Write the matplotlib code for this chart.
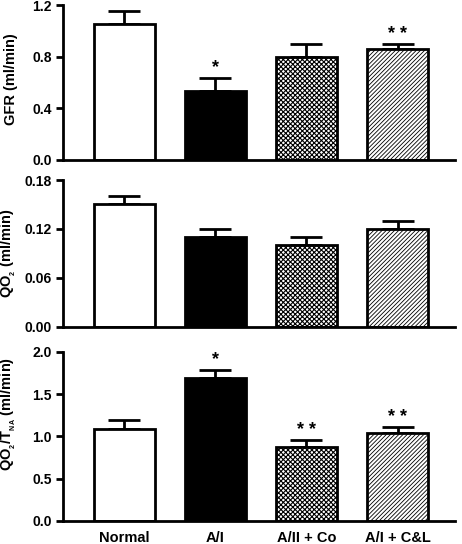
import matplotlib
matplotlib.use("Agg")
import matplotlib.pyplot as plt
import numpy as np

categories = ["Normal", "A/I", "A/II + Co", "A/I + C&L"]
gfr = [1.05, 0.535, 0.80, 0.86]
gfr_err = [0.105, 0.10, 0.098, 0.035]
qo2 = [0.1505, 0.110, 0.100, 0.1195]
qo2_err = [0.0105, 0.0105, 0.010, 0.0105]
qo2t = [1.083, 1.693, 0.874, 1.043]
qo2t_err = [0.105, 0.09, 0.08, 0.064]
gfr_stars = ["", "*", "", "* *"]
qo2_stars = ["", "", "", ""]
qo2t_stars = ["", "*", "* *", "* *"]

plt.rcParams['font.family'] = ['Liberation Sans', 'DejaVu Sans']
plt.rcParams['font.weight'] = 'bold'
plt.rcParams['mathtext.fontset'] = 'custom'
plt.rcParams['mathtext.rm'] = 'Liberation Sans:bold'
plt.rcParams['mathtext.it'] = 'Liberation Sans:bold'
plt.rcParams['mathtext.bf'] = 'Liberation Sans:bold'
plt.rcParams['hatch.linewidth'] = 0.8

fig = plt.figure(figsize=(4.62, 5.44), dpi=100)
L, W = 0.1364, 0.8485
panels = [
    dict(rect=[L, 0.706, W, 0.2848], vals=gfr, err=gfr_err, stars=gfr_stars,
         ylim=(0, 1.2), ticks=[0.0, 0.4, 0.8, 1.2], fmt="{:.1f}", label="GFR (ml/min)", ly=0.52),
    dict(rect=[L, 0.3995, W, 0.2695], vals=qo2, err=qo2_err, stars=qo2_stars,
         ylim=(0, 0.18), ticks=[0.0, 0.06, 0.12, 0.18], fmt="{:.2f}", label="QO$_\\mathregular{_2}$ (ml/min)", ly=0.5),
    dict(rect=[L, 0.0423, W, 0.3112], vals=qo2t, err=qo2t_err, stars=qo2t_stars,
         ylim=(0, 2.0), ticks=[0.0, 0.5, 1.0, 1.5, 2.0], fmt="{:.1f}",
         label="QO$_\\mathregular{_2}$/T$_\\mathregular{_{NA}}$ (ml/min)", ly=0.63),
]

faces = ["white", "black", "white", "white"]
hatches = [None, None, "xxxxxxx", "////////"]
hatch_lw = [0.8, 0.8, 0.8, 0.6]
x = np.arange(len(categories))

for i, p in enumerate(panels):
    ax = fig.add_axes(p["rect"])
    for j in range(len(categories)):
        bars = ax.bar(x[j], p["vals"][j], width=0.67, color=faces[j], edgecolor="black",
                      linewidth=2, hatch=hatches[j], zorder=2)
        for b in bars:
            try:
                b.set_hatch_linewidth(hatch_lw[j])
            except AttributeError:
                pass
        ax.errorbar(x[j], p["vals"][j], yerr=[[0], [p["err"][j]]], fmt="none",
                    ecolor="black", elinewidth=2, capsize=11.5, capthick=2, zorder=1)
        if p["stars"][j]:
            top = p["vals"][j] + p["err"][j]
            ax.text(x[j], top + (p["ylim"][1]) * 0.01, p["stars"][j], ha="center", va="bottom",
                    fontsize=13, fontweight="bold")
    ax.set_xlim(-0.67, 3.63)
    ax.set_ylim(*p["ylim"])
    ax.set_yticks(p["ticks"])
    ax.set_yticklabels([p["fmt"].format(t) for t in p["ticks"]], fontsize=10, fontweight="bold")
    ax.spines["top"].set_visible(False)
    ax.spines["right"].set_visible(False)
    ax.spines["left"].set_linewidth(2)
    ax.spines["bottom"].set_linewidth(2)
    ax.tick_params(axis="y", length=5, width=2, direction="out", pad=3)
    ax.set_ylabel(p["label"], fontsize=10.5, fontweight="bold")
    ax.yaxis.set_label_coords(-0.116, p["ly"])
    if i < 2:
        ax.set_xticks([])
    else:
        ax.set_xticks(x)
        ax.set_xticklabels(categories, fontsize=10.5, fontweight="bold")
        ax.tick_params(axis="x", length=0, pad=7)

fig.savefig("out.png", dpi=100)
